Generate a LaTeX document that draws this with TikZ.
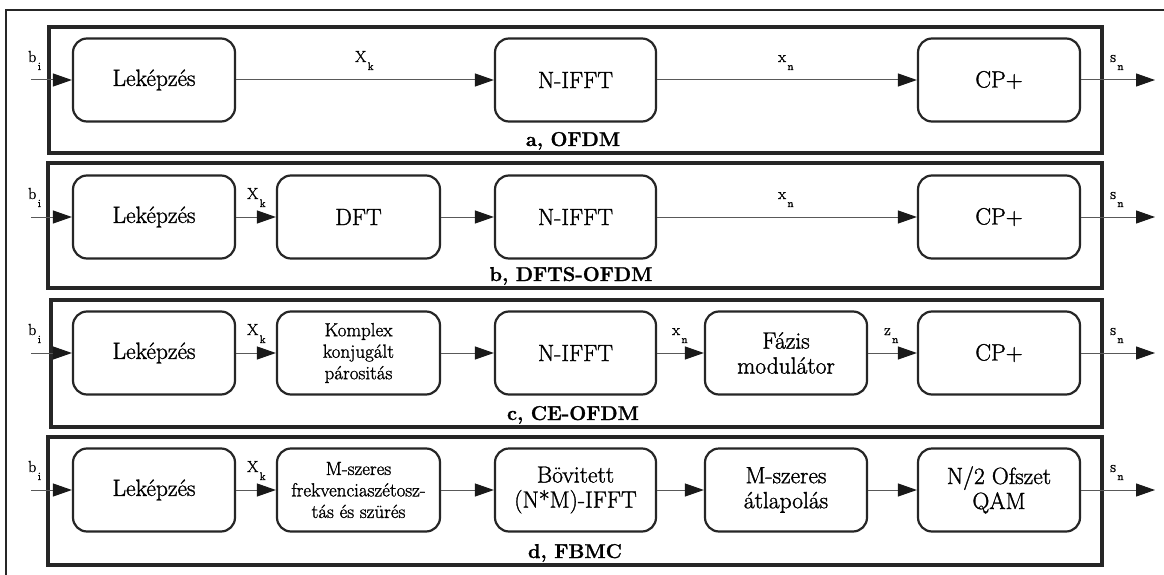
\documentclass[tikz,border=0pt]{standalone}
\usepackage{fontspec}
\setmainfont{Latin Modern Roman}[RawFeature={embolden=1.3}]
\usetikzlibrary{arrows.meta}
\newcommand\sigl[2]{#1\hspace{1.5pt}\raisebox{-8pt}{\fontsize{11}{11}\selectfont #2}}
\begin{document}
\begin{tikzpicture}[x=1pt,y=-1pt,
 blk/.style={draw=black!85, line width=2.2pt, rounded corners=14pt, minimum height=83pt, align=center, inner sep=2pt, font=\fontsize{23.5}{25}\selectfont},
 sblk/.style={blk, font=\fontsize{19}{21.5}\selectfont},
 panel/.style={draw=black!85, line width=4pt},
 conn/.style={draw=black!65, line width=1pt, -{Triangle[length=19pt,width=13pt,color=black!90]}},
 sig/.style={font=\fontsize{16}{16}\selectfont, inner sep=0pt, anchor=base west},
 seclabel/.style={font=\bfseries\fontsize{20}{22}\selectfont, inner sep=0pt, anchor=base},
 outerframe/.style={draw=black!85, line width=1.2pt}
]
\useasboundingbox (0,0) rectangle (1164,575);
\fill[white] (0,0) rectangle (1164,575);
\draw[outerframe] (6,575) -- (6,10) -- (1164,10);

% panels
\draw[panel] (49,27) rectangle (1102,153);
\draw[panel] (48,163) rectangle (1102,288);
\draw[panel] (51,300) rectangle (1102,427);
\draw[panel] (48,437) rectangle (1102,565);

\node[seclabel] (capa) at (573,146) {a, OFDM};
\node[seclabel] (capb) at (571,281) {b, DFTS-OFDM};
\node[seclabel] (capc) at (573,420) {c, CE-OFDM};
\node[seclabel] (capd) at (575,558) {d, FBMC};

% row a
\node[blk, minimum width=162pt] (la) at (154,80) {Leképzés};
\node[blk, minimum width=161pt] (ia) at (575.5,80) {N-IFFT};
\node[blk, minimum width=162pt] (ca) at (999,80) {CP+};
\coordinate (ina) at (31,80);
\coordinate (outa) at (1155,80);
\draw[conn] (ina) -- (la);
\draw[conn] (la) -- (ia);
\draw[conn] (ia) -- (ca);
\draw[conn] (ca) -- (outa);
\node[sig] (bia) at (28,62) {\sigl{b}{i}};
\node[sig] (xka) at (355,62) {\sigl{X}{k}};
\node[sig] (xna) at (778,62) {\sigl{x}{n}};
\node[sig] (sna) at (1110,62) {\sigl{s}{n}};

% row b
\node[blk, minimum width=162pt] (lb) at (154,217) {Leképzés};
\node[blk, minimum width=163pt] (db) at (358.5,217) {DFT};
\node[blk, minimum width=161pt] (ib) at (575.5,217) {N-IFFT};
\node[blk, minimum width=162pt] (cb) at (999,217) {CP+};
\coordinate (inb) at (31,217);
\coordinate (outb) at (1155,217);
\draw[conn] (inb) -- (lb);
\draw[conn] (lb) -- (db);
\draw[conn] (db) -- (ib);
\draw[conn] (ib) -- (cb);
\draw[conn] (cb) -- (outb);
\node[sig] (bib) at (28,199) {\sigl{b}{i}};
\node[sig] (xkb) at (247,199) {\sigl{X}{k}};
\node[sig] (xnb) at (778,199) {\sigl{x}{n}};
\node[sig] (snb) at (1110,199) {\sigl{s}{n}};

% row c
\node[blk, minimum width=162pt] (lc) at (154,353) {Leképzés};
\node[sblk, minimum width=163pt] (kc) at (358.5,353) {Komplex\\konjugált\\párositás};
\node[blk, minimum width=161pt] (ic) at (575.5,353) {N-IFFT};
\node[blk, minimum width=162pt] (fc) at (786,353) {Fázis\\modulátor};
\node[blk, minimum width=162pt] (cc) at (999,353) {CP+};
\coordinate (inc) at (31,353);
\coordinate (outc) at (1155,353);
\draw[conn] (inc) -- (lc);
\draw[conn] (lc) -- (kc);
\draw[conn] (kc) -- (ic);
\draw[conn] (ic) -- (fc);
\draw[conn] (fc) -- (cc);
\draw[conn] (cc) -- (outc);
\node[sig] (bic) at (28,335) {\sigl{b}{i}};
\node[sig] (xkc) at (247,335) {\sigl{X}{k}};
\node[sig] (xnc) at (672,335) {\sigl{x}{n}};
\node[sig] (znc) at (884,335) {\sigl{z}{n}};
\node[sig] (snc) at (1110,335) {\sigl{s}{n}};

% row d
\node[blk, minimum width=162pt] (ld) at (154,490) {Leképzés};
\node[sblk, minimum width=163pt] (md) at (358.5,490) {M-szeres\\frekvenciaszétosz-\\tás és szürés};
\node[blk, minimum width=161pt] (bd) at (575.5,490) {Bövitett\\(N*M)-IFFT};
\node[blk, minimum width=162pt] (ad) at (786,490) {M-szeres\\átlapolás};
\node[blk, minimum width=162pt] (qd) at (999,490) {N/2 Ofszet\\QAM};
\coordinate (ind) at (31,490);
\coordinate (outd) at (1155,490);
\draw[conn] (ind) -- (ld);
\draw[conn] (ld) -- (md);
\draw[conn] (md) -- (bd);
\draw[conn] (bd) -- (ad);
\draw[conn] (ad) -- (qd);
\draw[conn] (qd) -- (outd);
\node[sig] (bid) at (28,472) {\sigl{b}{i}};
\node[sig] (xkd) at (247,472) {\sigl{X}{k}};
\node[sig] (snd) at (1110,472) {\sigl{s}{n}};
\end{tikzpicture}
\end{document}
